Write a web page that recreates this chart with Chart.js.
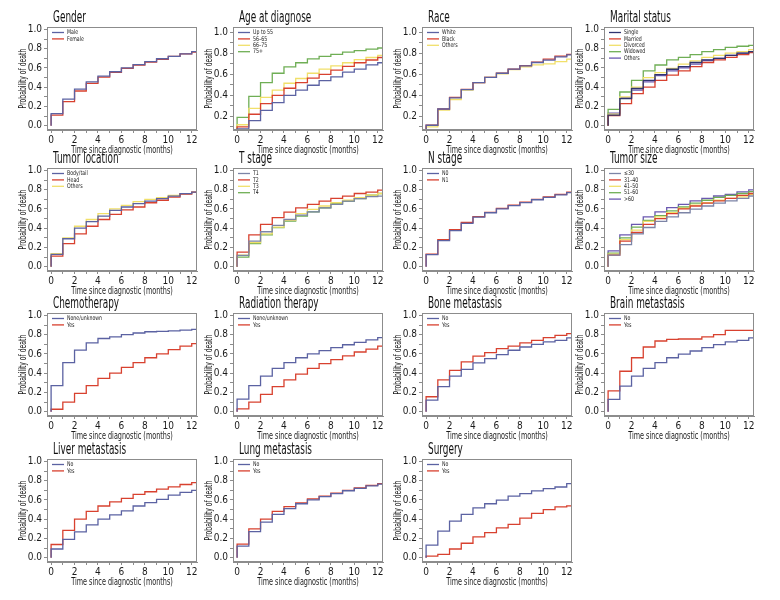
<!DOCTYPE html>
<html>
<head>
<meta charset="utf-8">
<script src="https://cdn.jsdelivr.net/npm/chart.js@4.4.1/dist/chart.umd.min.js"></script>
<style>
  html, body { margin: 0; padding: 0; background: #fff; }
  #wrap { position: relative; width: 780px; height: 600px; overflow: hidden; }
  #wrap canvas { position: absolute; }
</style>
</head>
<body>
<div id="wrap"></div>
<script>
// months 0..12, each value holds from month k to k+1
const xTickValues = [0, 1, 2, 3, 4, 5, 6, 7, 8, 9, 10, 11, 12];
const yTickValues = [0, 0.1, 0.2, 0.3, 0.4, 0.5, 0.6, 0.7, 0.8, 0.9, 1.0];
const xTitle = "Time since diagnostic (months)";
const yTitle = "Probability of death";

// Gender
const genderLabels = ["Male", "Female"];
const genderMale   = [0.125, 0.275, 0.38, 0.455, 0.515, 0.56, 0.60, 0.635, 0.665, 0.695, 0.72, 0.745, 0.77];
const genderFemale = [0.11, 0.25, 0.36, 0.44, 0.505, 0.555, 0.595, 0.63, 0.66, 0.69, 0.72, 0.745, 0.765];

// Age at diagnose
const ageLabels = ["Up to 55", "56\u201365", "66\u201375", "75+"];
const ageUpTo55 = [0.08, 0.16, 0.256, 0.33, 0.40, 0.45, 0.496, 0.54, 0.576, 0.62, 0.65, 0.69, 0.71];
const age56to65 = [0.10, 0.22, 0.32, 0.40, 0.467, 0.52, 0.563, 0.60, 0.64, 0.675, 0.71, 0.736, 0.76];
const age66to75 = [0.12, 0.275, 0.38, 0.45, 0.515, 0.56, 0.61, 0.65, 0.68, 0.71, 0.74, 0.76, 0.78];
const age75plus = [0.19, 0.39, 0.52, 0.61, 0.67, 0.71, 0.746, 0.77, 0.79, 0.81, 0.825, 0.84, 0.85];

// Race
const raceLabels = ["White", "Black", "Others"];
const raceWhite  = [0.115, 0.27, 0.375, 0.455, 0.52, 0.57, 0.61, 0.65, 0.68, 0.712, 0.735, 0.765, 0.785];
const raceBlack  = [0.115, 0.27, 0.38, 0.457, 0.52, 0.57, 0.61, 0.65, 0.682, 0.716, 0.745, 0.772, 0.79];
const raceOthers = [0.10, 0.26, 0.36, 0.45, 0.52, 0.57, 0.605, 0.645, 0.67, 0.69, 0.70, 0.72, 0.745];

// Marital status
const maritalLabels = ["Single", "Married", "Divorced", "Widowed", "Others"];
const maritalSingle   = [0.11, 0.28, 0.386, 0.47, 0.53, 0.586, 0.614, 0.656, 0.684, 0.70, 0.73, 0.754, 0.77];
const maritalMarried  = [0.105, 0.23, 0.333, 0.40, 0.47, 0.526, 0.57, 0.614, 0.656, 0.684, 0.71, 0.737, 0.76];
const maritalDivorced = [0.12, 0.30, 0.40, 0.50, 0.55, 0.596, 0.64, 0.674, 0.71, 0.73, 0.754, 0.77, 0.79];
const maritalWidowed  = [0.17, 0.35, 0.47, 0.57, 0.63, 0.684, 0.71, 0.737, 0.77, 0.79, 0.814, 0.825, 0.835];
const maritalOthers   = [0.13, 0.29, 0.37, 0.455, 0.52, 0.57, 0.60, 0.64, 0.677, 0.70, 0.73, 0.754, 0.77];

// Tumor location
const locationLabels = ["Body/tail", "Head", "Others"];
const locationBody   = [0.128, 0.29, 0.40, 0.467, 0.526, 0.585, 0.62, 0.654, 0.68, 0.706, 0.733, 0.758, 0.775];
const locationHead   = [0.11, 0.24, 0.34, 0.42, 0.49, 0.543, 0.59, 0.62, 0.664, 0.69, 0.723, 0.755, 0.775];
const locationOthers = [0.135, 0.30, 0.42, 0.49, 0.55, 0.60, 0.637, 0.675, 0.70, 0.716, 0.74, 0.758, 0.775];

// T stage
const tLabels = ["T1", "T2", "T3", "T4"];
const tStage1 = [0.118, 0.266, 0.363, 0.43, 0.49, 0.536, 0.57, 0.61, 0.647, 0.68, 0.706, 0.727, 0.733];
const tStage2 = [0.152, 0.33, 0.44, 0.51, 0.567, 0.61, 0.647, 0.68, 0.71, 0.733, 0.76, 0.775, 0.796];
const tStage3 = [0.12, 0.25, 0.34, 0.41, 0.48, 0.55, 0.595, 0.63, 0.664, 0.69, 0.716, 0.744, 0.76];
const tStage4 = [0.10, 0.24, 0.33, 0.405, 0.474, 0.526, 0.57, 0.61, 0.654, 0.68, 0.706, 0.744, 0.76];

// N stage
const nLabels = ["N0", "N1"];
const nStage0 = [0.125, 0.27, 0.375, 0.45, 0.515, 0.56, 0.60, 0.635, 0.665, 0.695, 0.72, 0.745, 0.77];
const nStage1 = [0.13, 0.28, 0.385, 0.46, 0.52, 0.565, 0.605, 0.64, 0.67, 0.70, 0.725, 0.75, 0.775];

// Tumor size
const sizeLabels = ["\u226430", "31\u201340", "41\u201350", "51\u201360", ">60"];
const size30   = [0.12, 0.23, 0.34, 0.407, 0.47, 0.517, 0.56, 0.597, 0.63, 0.66, 0.683, 0.71, 0.734];
const size40   = [0.12, 0.265, 0.355, 0.44, 0.50, 0.55, 0.60, 0.63, 0.66, 0.683, 0.71, 0.74, 0.76];
const size50   = [0.13, 0.28, 0.38, 0.47, 0.517, 0.56, 0.607, 0.64, 0.665, 0.69, 0.71, 0.724, 0.752];
const size60   = [0.14, 0.30, 0.41, 0.48, 0.53, 0.58, 0.62, 0.66, 0.69, 0.72, 0.74, 0.76, 0.78];
const sizeOver = [0.165, 0.33, 0.44, 0.517, 0.57, 0.614, 0.648, 0.683, 0.71, 0.734, 0.75, 0.776, 0.797];

// Chemotherapy
const chemoLabels = ["None/unknown", "Yes"];
const chemoNone = [0.27, 0.51, 0.64, 0.714, 0.76, 0.776, 0.80, 0.817, 0.83, 0.834, 0.84, 0.848, 0.855];
const chemoYes  = [0.025, 0.10, 0.19, 0.27, 0.345, 0.40, 0.46, 0.51, 0.56, 0.60, 0.645, 0.68, 0.707];

// Radiation therapy
const radioLabels = ["None/unknown", "Yes"];
const radioNone = [0.13, 0.27, 0.37, 0.45, 0.51, 0.56, 0.60, 0.635, 0.665, 0.695, 0.72, 0.745, 0.77];
const radioYes  = [0.03, 0.10, 0.18, 0.26, 0.33, 0.39, 0.45, 0.50, 0.54, 0.58, 0.62, 0.65, 0.68];

// Bone metastasis
const noYesLabels = ["No", "Yes"];
const boneNo  = [0.12, 0.26, 0.37, 0.44, 0.507, 0.55, 0.593, 0.638, 0.672, 0.70, 0.724, 0.74, 0.766];
const boneYes = [0.155, 0.33, 0.43, 0.517, 0.576, 0.614, 0.655, 0.68, 0.714, 0.74, 0.77, 0.793, 0.81];

// Brain metastasis
const brainNo  = [0.128, 0.265, 0.37, 0.45, 0.51, 0.56, 0.597, 0.63, 0.666, 0.697, 0.724, 0.74, 0.766];
const brainYes = [0.217, 0.42, 0.56, 0.672, 0.734, 0.75, 0.755, 0.755, 0.776, 0.80, 0.845, 0.845, 0.845];

// Liver metastasis
const liverNo  = [0.09, 0.19, 0.267, 0.34, 0.40, 0.445, 0.486, 0.537, 0.572, 0.606, 0.65, 0.678, 0.70];
const liverYes = [0.137, 0.284, 0.40, 0.48, 0.537, 0.58, 0.616, 0.657, 0.685, 0.712, 0.736, 0.76, 0.78];

// Lung metastasis
const lungNo  = [0.12, 0.27, 0.37, 0.45, 0.51, 0.56, 0.60, 0.635, 0.665, 0.695, 0.72, 0.745, 0.765];
const lungYes = [0.14, 0.30, 0.40, 0.48, 0.53, 0.57, 0.61, 0.64, 0.67, 0.70, 0.725, 0.75, 0.77];

// Surgery
const surgeryNo  = [0.13, 0.276, 0.38, 0.45, 0.517, 0.56, 0.597, 0.64, 0.666, 0.693, 0.717, 0.734, 0.77];
const surgeryYes = [0.017, 0.035, 0.09, 0.15, 0.217, 0.26, 0.31, 0.345, 0.41, 0.46, 0.50, 0.527, 0.538];

// colours
const BLUE = "#5b62a2", RED = "#d8412f", YELLOW = "#f1e06a", GREEN = "#6fae55",
      NAVY = "#2f3470", PURPLE = "#6b58b0", GRAY = "#7c84a6";

const panels = [
  { title: "Gender", labels: genderLabels, series: [genderMale, genderFemale], colors: [BLUE, RED] },
  { title: "Age at diagnose", labels: ageLabels, series: [ageUpTo55, age56to65, age66to75, age75plus], colors: [BLUE, RED, YELLOW, GREEN], low: true },
  { title: "Race", labels: raceLabels, series: [raceWhite, raceBlack, raceOthers], colors: [BLUE, RED, YELLOW], low: true },
  { title: "Marital status", labels: maritalLabels, series: [maritalSingle, maritalMarried, maritalDivorced, maritalWidowed, maritalOthers], colors: [NAVY, RED, YELLOW, GREEN, PURPLE] },
  { title: "Tumor location", labels: locationLabels, series: [locationBody, locationHead, locationOthers], colors: [BLUE, RED, YELLOW] },
  { title: "T stage", labels: tLabels, series: [tStage1, tStage2, tStage3, tStage4], colors: [GRAY, RED, YELLOW, GREEN] },
  { title: "N stage", labels: nLabels, series: [nStage0, nStage1], colors: [BLUE, RED] },
  { title: "Tumor size", labels: sizeLabels, series: [size30, size40, size50, size60, sizeOver], colors: [GRAY, RED, YELLOW, GREEN, PURPLE] },
  { title: "Chemotherapy", labels: chemoLabels, series: [chemoNone, chemoYes], colors: [BLUE, RED] },
  { title: "Radiation therapy", labels: radioLabels, series: [radioNone, radioYes], colors: [BLUE, RED] },
  { title: "Bone metastasis", labels: noYesLabels, series: [boneNo, boneYes], colors: [BLUE, RED] },
  { title: "Brain metastasis", labels: noYesLabels, series: [brainNo, brainYes], colors: [BLUE, RED] },
  { title: "Liver metastasis", labels: noYesLabels, series: [liverNo, liverYes], colors: [BLUE, RED] },
  { title: "Lung metastasis", labels: noYesLabels, series: [lungNo, lungYes], colors: [BLUE, RED] },
  { title: "Surgery", labels: noYesLabels, series: [surgeryNo, surgeryYes], colors: [BLUE, RED] }
];

// grid placement of the plot boxes
const colLeft = [47, 233, 422, 604];
const rowTop = [27, 168, 313, 459];
const PLOT_W = 150, PLOT_H = 103;
const AXIS_W = 40, TITLE_H = 22, XAXIS_H = 30, PAD_R = 8;

const FONT = "'Liberation Sans Narrow', 'DejaVu Sans Condensed', 'Roboto', sans-serif";
Chart.defaults.font.family = FONT;
Chart.defaults.color = "#1a1a1a";

// narrow text like the original condensed typeface
function condensedText(ctx, text, x, y, size, squeeze, align, rotate) {
  ctx.save();
  ctx.translate(x, y);
  if (rotate) ctx.rotate(-Math.PI / 2);
  ctx.scale(squeeze, 1);
  ctx.font = size + "px " + FONT;
  ctx.textAlign = align;
  ctx.textBaseline = "middle";
  ctx.fillText(text, 0, 0);
  ctx.restore();
}

// frame, panel title, axis titles and the small legend inside the plot
const framePlugin = {
  id: "frame",
  afterDraw(chart, args, opts) {
    const { ctx, chartArea: a } = chart;
    ctx.save();
    ctx.strokeStyle = "#8c8c8c";
    ctx.lineWidth = 1;
    ctx.strokeRect(a.left + 0.5, a.top + 0.5, a.right - a.left - 1, a.bottom - a.top - 1);

    ctx.fillStyle = "#111";
    condensedText(ctx, opts.text, a.left + 6, a.top - 9, 15, 0.66, "left");
    ctx.fillStyle = "#1a1a1a";
    condensedText(ctx, xTitle, (a.left + a.right) / 2, a.bottom + 20, 10, 0.72, "center");
    condensedText(ctx, yTitle, a.left - 24, (a.top + a.bottom) / 2, 10, 0.68, "center", true);

    chart.data.datasets.forEach((ds, i) => {
      const y = a.top + 5.5 + i * 6.4;
      ctx.strokeStyle = ds.borderColor;
      ctx.lineWidth = 1.3;
      ctx.beginPath();
      ctx.moveTo(a.left + 5, y);
      ctx.lineTo(a.left + 17, y);
      ctx.stroke();
      ctx.fillStyle = "#222";
      condensedText(ctx, ds.label, a.left + 20, y, 6.5, 0.8, "left");
    });
    ctx.restore();
  }
};

function stepPoints(values) {
  const pts = [{ x: 0, y: 0 }];
  values.forEach((v, i) => pts.push({ x: xTickValues[i], y: v }));
  pts.push({ x: 13, y: values[values.length - 1] });
  return pts;
}

const wrap = document.getElementById("wrap");

panels.forEach((p, idx) => {
  const col = idx % 4, row = Math.floor(idx / 4);
  const canvas = document.createElement("canvas");
  const w = AXIS_W + PLOT_W + PAD_R, h = TITLE_H + PLOT_H + XAXIS_H;
  canvas.width = w; canvas.height = h;
  canvas.style.width = w + "px"; canvas.style.height = h + "px";
  canvas.style.left = (colLeft[col] - AXIS_W) + "px";
  canvas.style.top = (rowTop[row] - TITLE_H) + "px";
  wrap.appendChild(canvas);

  const yMin = p.low ? 0.07 : -0.045;
  const yMax = p.low ? 1.05 : 1.025;

  new Chart(canvas.getContext("2d"), {
    type: "line",
    data: {
      datasets: p.series.map((s, i) => ({
        label: p.labels[i],
        data: stepPoints(s),
        stepped: true,
        borderColor: p.colors[i],
        backgroundColor: p.colors[i],
        borderWidth: 1.3,
        pointRadius: 0,
        fill: false
      }))
    },
    options: {
      responsive: false,
      animation: false,
      events: [],
      layout: { padding: { top: TITLE_H, right: PAD_R, left: 0, bottom: 0 } },
      plugins: {
        frame: { text: p.title },
        tooltip: { enabled: false },
        legend: { display: false }
      },
      scales: {
        x: {
          type: "linear",
          min: -0.35,
          max: 12.45,
          afterBuildTicks: (s) => { s.ticks = xTickValues.map(v => ({ value: v })); },
          afterFit: (s) => { s.height = XAXIS_H; },
          ticks: {
            autoSkip: false,
            maxRotation: 0,
            padding: 1,
            font: { size: 10 },
            color: "#1a1a1a",
            callback: (v) => (v % 2 === 0 ? String(v) : "")
          },
          grid: { display: true, drawOnChartArea: false, drawTicks: true, tickLength: 3, color: "#8c8c8c" },
          border: { display: true, color: "#8c8c8c" },
          title: { display: false }
        },
        y: {
          min: yMin,
          max: yMax,
          afterBuildTicks: (s) => { s.ticks = yTickValues.filter(v => v >= yMin && v <= yMax).map(v => ({ value: v })); },
          afterFit: (s) => { s.width = AXIS_W; },
          ticks: {
            autoSkip: false,
            padding: 2,
            font: { size: 10 },
            color: "#1a1a1a",
            callback: (v) => (Math.round(v * 10) % 2 === 0 ? v.toFixed(1) : "")
          },
          grid: { display: true, drawOnChartArea: false, drawTicks: true, tickLength: 3, color: "#8c8c8c" },
          border: { display: true, color: "#8c8c8c" },
          title: { display: false }
        }
      }
    },
    plugins: [framePlugin]
  });
});
</script>
</body>
</html>
